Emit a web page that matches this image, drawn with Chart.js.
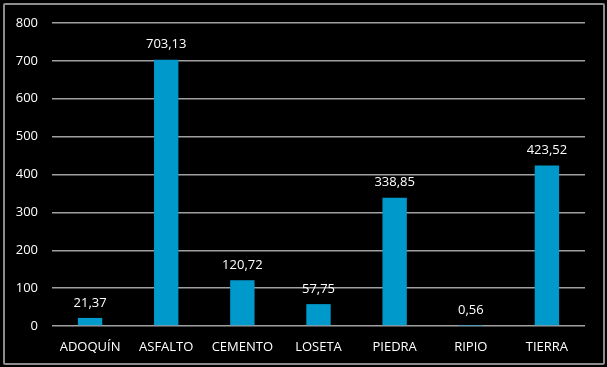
<!DOCTYPE html>
<html>
<head>
<meta charset="utf-8">
<script src="https://cdn.jsdelivr.net/npm/chart.js@4"></script>
<style>
  html, body { margin: 0; padding: 0; background: #000; }
  #wrap { position: relative; width: 607px; height: 367px; }
  #frame { position: absolute; left: 3px; top: 3px; width: 598px; height: 358px;
           border: 2px solid #8c8c8c; border-radius: 2px; pointer-events: none; }
</style>
</head>
<body>
<div id="wrap">
  <canvas id="chart" width="607" height="367"></canvas>
  <div id="frame"></div>
</div>
<script>
var categories = ['ADOQUÍN', 'ASFALTO', 'CEMENTO', 'LOSETA', 'PIEDRA', 'RIPIO', 'TIERRA'];
var values = [21.37, 703.13, 120.72, 57.75, 338.85, 0.56, 423.52];
var yTicks = [0, 100, 200, 300, 400, 500, 600, 700, 800];

// labels above each bar, comma decimal
var barLabels = {
  id: 'barLabels',
  afterDatasetsDraw: function (chart) {
    var ctx = chart.ctx;
    var meta = chart.getDatasetMeta(0);
    ctx.save();
    ctx.fillStyle = '#ffffff';
    ctx.font = '13px "Open Sans", sans-serif';
    ctx.textAlign = 'center';
    ctx.textBaseline = 'middle';
    meta.data.forEach(function (bar, i) {
      var txt = values[i].toFixed(2).replace('.', ',');
      ctx.fillText(txt, bar.x, bar.y - 15);
    });
    ctx.restore();
  }
};

var ctx = document.getElementById('chart');
new Chart(ctx, {
  type: 'bar',
  data: {
    labels: categories,
    datasets: [{
      data: values,
      backgroundColor: '#0099cc',
      borderWidth: 0,
      barPercentage: 0.32,
      categoryPercentage: 1
    }]
  },
  options: {
    responsive: false,
    animation: false,
    layout: { padding: { left: 0, right: 22, top: 23, bottom: 0 } },
    plugins: { legend: { display: false }, tooltip: { enabled: false } },
    scales: {
      x: {
        grid: { display: false },
        border: { display: false },
        ticks: { color: '#ffffff', font: { family: 'Open Sans', size: 13 }, padding: 5 },
        afterFit: function (scale) { scale.height = 41; }
      },
      y: {
        min: 0,
        max: 800,
        afterBuildTicks: function (scale) {
          scale.ticks = yTicks.map(function (v) { return { value: v }; });
        },
        grid: { color: '#a0a0a0', lineWidth: 1.5, drawTicks: false },
        border: { display: false },
        ticks: { color: '#ffffff', font: { family: 'Open Sans', size: 13 }, padding: 14 },
        afterFit: function (scale) { scale.width = 52; }
      }
    }
  },
  plugins: [barLabels]
});
</script>
</body>
</html>
